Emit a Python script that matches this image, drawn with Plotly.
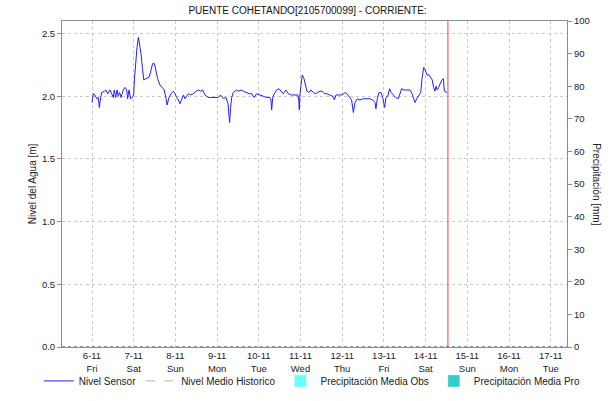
import pandas as pd
import plotly.graph_objects as go

# Nivel Sensor readings: hours since 2020-11-06 00:00 and level in metres
hours = [
    0, 0.75, 1.7, 2.7, 3.6, 4.2, 5, 5.6, 7.1, 8, 9, 10.4, 11.3, 12.3, 12.8, 13.6,
    14.4, 15.1, 15.9, 16.7, 18, 19, 20, 20.5, 21.3, 22.3, 23.2, 24, 24.4, 25.1,
    25.9, 26.7, 27.4, 28.2, 29, 29.8, 30.9, 32.8, 34, 34.9, 35.9, 36.8, 37.8,
    39.1, 40.5, 41.6, 42.6, 43.2, 44.3, 45.5, 46.8, 47.8,
    48.7, 49.7, 50.6, 51.6, 52.6, 53.5, 54.5, 55.4, 56.8, 58.3, 59.9, 61.2, 62.5,
    63.7, 65, 66.9, 68.9, 70.8, 72.7, 74, 75.6, 77.1, 78.3, 78.8, 79.2, 79.8,
    80.4, 81.3, 82.3, 83.3, 84.6, 85.8, 87.1, 88.6, 90.5, 91.9, 93.2,
    94.8, 96.7, 98.6, 100.5, 102.4, 103, 103.4, 104, 104.9, 106.3, 107.6, 108.8,
    110.1, 111.5, 113, 114.9, 116.8, 118.4, 119, 119.3, 119.7, 120.3, 121, 122,
    123, 123.7, 124.9, 126, 127.4, 128.7, 129.9, 131.2, 132.5, 133.7, 135.1, 137,
    138.5, 139.5, 140.4, 141.8, 143.3, 144.6, 146, 147.2, 148.5,
    149.4, 150.4, 151.4, 152.7, 154.2, 156.1, 158.1, 160, 161.5, 162.9, 163.4,
    164.2, 165.2, 166.3, 167.3, 168.4, 169.2, 170.2, 171.3, 172.2, 173.4, 174.8,
    176.3, 177.3, 178.2, 179.7, 181.5, 183, 184.2, 184.9, 185.9, 186.9, 188,
    189.2, 189.9, 190.9, 191.8, 192.8, 194, 194.9, 195.8, 196.6, 197.4, 198,
    198.7, 199.5, 200.3, 201.3, 202.2, 202.8, 204.2,
]
nivel = [
    1.95, 2.02, 2.01, 1.98, 1.99, 1.91, 1.99, 2.03, 2.04, 2.05, 2.02, 2.05, 2.02,
    1.99, 2.05, 1.99, 2.05, 2.00, 2.03, 1.99, 2.05, 2.07, 2.05, 1.98, 2.05, 1.98,
    1.99, 2.01, 2.13, 2.29, 2.39, 2.47, 2.42, 2.34, 2.23, 2.13, 2.14, 2.15, 2.21,
    2.26, 2.26, 2.19, 2.14, 2.09, 2.07, 2.05, 1.98, 1.93, 1.99, 2.02, 2.04, 2.02,
    1.99, 1.97, 1.94, 1.97, 2.01, 1.98, 2.00, 2.02, 2.01, 2.02, 2.04, 2.05, 2.04,
    2.05, 2.01, 1.99, 1.99, 1.99, 1.99, 2.01, 1.98, 1.99, 1.94, 1.85, 1.79, 1.91,
    1.99, 2.03, 2.04, 2.05, 2.04, 2.05, 2.04, 2.03, 2.02, 2.02, 1.99,
    2.02, 2.01, 2.00, 1.99, 1.99, 1.97, 1.89, 1.99, 2.02, 2.05, 2.06, 2.04, 2.02,
    2.05, 2.02, 2.01, 2.01, 2.01, 1.97, 1.89, 2.02, 2.11, 2.17, 2.14, 2.09, 2.04,
    2.03, 2.05, 2.03, 2.02, 2.03, 2.04, 2.04, 2.02, 2.02, 2.01, 2.00, 1.97, 2.01,
    2.01, 2.01, 2.02, 2.03, 2.01, 1.99,
    1.97, 1.87, 1.95, 1.98, 1.97, 1.98, 1.98, 1.98, 1.97, 1.95, 1.90, 1.98, 2.03,
    2.03, 1.99, 1.91, 1.99, 2.00, 2.06, 2.03, 2.01, 1.99, 1.98, 2.03, 2.06, 2.05,
    2.05, 2.05, 2.02, 1.99, 1.95, 1.98, 2.01, 2.03, 2.14, 2.23, 2.21, 2.17, 2.17,
    2.15, 2.13, 2.07, 2.04, 2.08, 2.05, 2.07, 2.10, 2.13, 2.14, 2.04, 2.03,
]
# series with no readings in this period
nivel_historico = [None]
precip_obs = [None]
precip_pro = [None]

day_ticks = pd.date_range("2020-11-06", "2020-11-17", freq="D")
day_labels = [f"{d.day}-{d.month}<br>{d.strftime('%a')}" for d in day_ticks]
now_time = pd.Timestamp("2020-11-14 12:50")

start = pd.Timestamp("2020-11-06 00:00")
times = [start + pd.Timedelta(hours=h) for h in hours]

font = "Liberation Sans, Arial, sans-serif"
axis_grey = "#8c8c8c"
grid_grey = "#c8c8c8"

fig = go.Figure()
fig.add_trace(go.Scatter(
    x=times, y=nivel, mode="lines", name="Nivel Sensor",
    line=dict(color="#2020ff", width=1),
))
fig.add_trace(go.Scatter(
    x=[start], y=nivel_historico, mode="lines", name="Nivel Medio Historico",
    line=dict(color="#b4b4b4", width=1, dash="dash"),
))
fig.add_trace(go.Bar(
    x=[start], y=precip_obs, name="Precipitación Media Obs",
    marker_color="#66ffff", yaxis="y2",
))
fig.add_trace(go.Bar(
    x=[start], y=precip_pro, name="Precipitación Media Pro",
    marker_color="#33cccc", yaxis="y2",
))

# current time marker and dotted base line
fig.add_shape(type="line", xref="x", yref="paper", x0=now_time, x1=now_time,
              y0=0, y1=1, line=dict(color="#ff3b3b", width=1))
fig.add_shape(type="line", xref="paper", yref="y", x0=0, x1=1, y0=0, y1=0,
              line=dict(color="#333333", width=1, dash="dot"))

fig.add_annotation(text="Nivel del Agua [m]", xref="paper", yref="paper",
                   x=-0.059, y=0.5, xanchor="center", yanchor="middle",
                   showarrow=False, textangle=-90,
                   font=dict(family=font, size=10, color="#222222"))
fig.add_annotation(text="Precipitación [mm]", xref="paper", yref="paper",
                   x=1.059, y=0.5, xanchor="center", yanchor="middle",
                   showarrow=False, textangle=90,
                   font=dict(family=font, size=10, color="#222222"))

fig.update_layout(
    width=615, height=401,
    title=dict(text="PUENTE COHETANDO[2105700099] - CORRIENTE:",
               x=0.5, xanchor="center", y=0.975, yanchor="middle",
               font=dict(family=font, size=10, color="#111111")),
    font=dict(family=font, size=9.5, color="#222222"),
    plot_bgcolor="white", paper_bgcolor="white",
    margin=dict(l=62, r=48, t=21, b=54, autoexpand=False),
    showlegend=True,
    legend=dict(orientation="h", x=-0.046, xanchor="left",
                y=-0.104, yanchor="middle", bgcolor="rgba(0,0,0,0)",
                font=dict(family=font, size=10, color="#222222"),
                itemwidth=30, tracegroupgap=0),
    xaxis=dict(
        range=[pd.Timestamp("2020-11-05 06:44"), pd.Timestamp("2020-11-17 09:22")],
        tickvals=day_ticks, ticktext=day_labels,
        showgrid=True, gridcolor=grid_grey, griddash="dot", gridwidth=1,
        showline=True, linecolor=axis_grey, mirror=True,
        ticks="", zeroline=False, automargin=False,
    ),
    yaxis=dict(
        range=[0, 2.6], tickvals=[0, 0.5, 1.0, 1.5, 2.0, 2.5],
        tickformat=".1f",
        showgrid=True, gridcolor=grid_grey, griddash="dot", gridwidth=1,
        showline=True, linecolor=axis_grey,
        ticks="outside", ticklen=4, tickcolor=axis_grey, zeroline=False,
        automargin=False,
    ),
    yaxis2=dict(
        range=[0, 100], dtick=10, overlaying="y", side="right",
        showgrid=False, showline=True, linecolor=axis_grey,
        ticks="outside", ticklen=4, tickcolor=axis_grey, zeroline=False,
        automargin=False,
    ),
)

fig.write_html("out.html", config={"displayModeBar": False},
               post_script="document.body.style.margin='0';")
